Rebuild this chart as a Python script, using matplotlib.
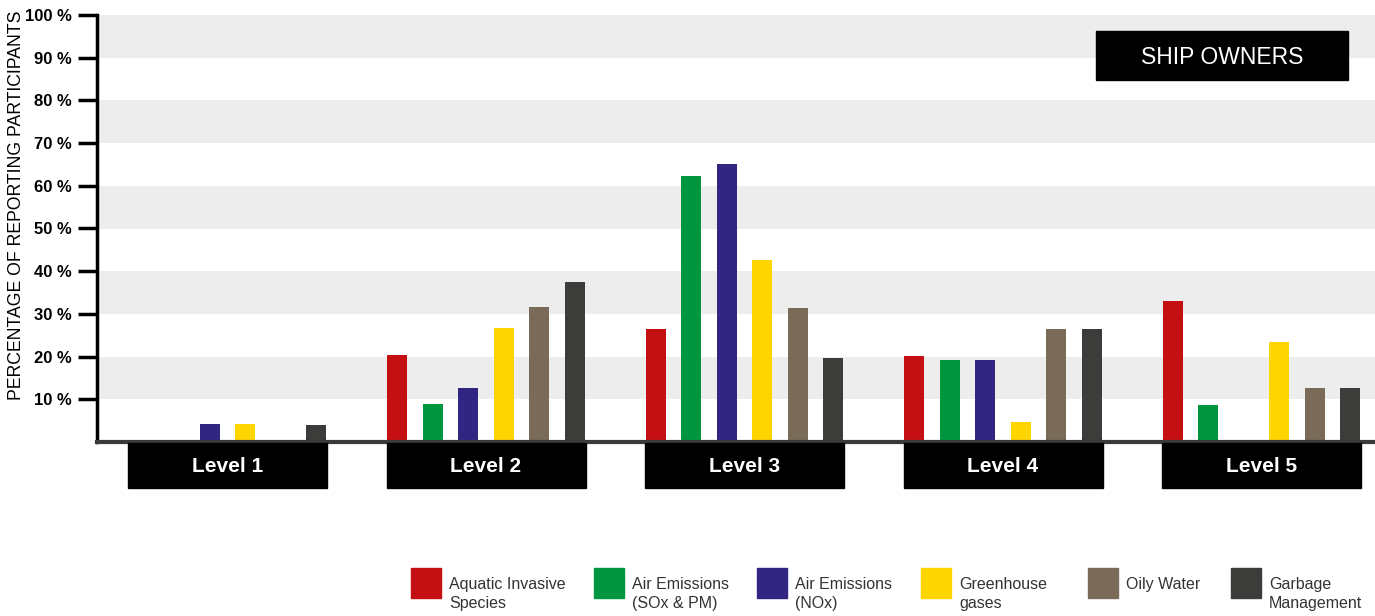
import matplotlib.pyplot as plt
import matplotlib.transforms as mtransforms
from matplotlib.patches import Rectangle
import numpy as np

plt.rcParams['font.family'] = ['Liberation Sans', 'DejaVu Sans']

# data
levels = ['Level 1', 'Level 2', 'Level 3', 'Level 4', 'Level 5']
series = ['Aquatic Invasive\nSpecies', 'Air Emissions\n(SOx & PM)', 'Air Emissions\n(NOx)',
          'Greenhouse\ngases', 'Oily Water', 'Garbage\nManagement']
aquatic = [0, 20.4, 26.5, 20.1, 33.0]
sox_pm = [0, 9.0, 62.3, 19.2, 8.7]
nox = [4.2, 12.6, 65.0, 19.2, 0]
ghg = [4.2, 26.7, 42.6, 4.7, 23.4]
oily = [0, 31.6, 31.4, 26.5, 12.6]
garbage = [3.9, 37.5, 19.7, 26.5, 12.6]
values = [aquatic, sox_pm, nox, ghg, oily, garbage]
colors = ['#C40F13', '#009640', '#312783', '#FFD500', '#7A6A58', '#3C3C3B']

fig = plt.figure(figsize=(13.75, 6.16), dpi=100)
W, H = 1375, 616
ax = fig.add_axes([97 / W, 174 / H, 1278 / W, 427 / H])

x = np.arange(len(levels))
step = 0.1373
width = 0.0774

# background bands
for lo in range(10, 100, 20):
    ax.axhspan(lo, lo + 10, color='#EDEDED', zorder=0, lw=0)

for i, (vals, c) in enumerate(zip(values, colors)):
    ax.bar(x + (i - 2.5) * step, vals, width=width, color=c, zorder=2)

ax.set_xlim(-0.505, 4.439)
ax.set_ylim(0, 100)
ax.set_yticks(range(10, 101, 10))
ax.set_yticklabels([f'{v} %' for v in range(10, 101, 10)], fontsize=12, fontweight='bold')
ax.tick_params(axis='y', length=14, width=2.5, direction='out', pad=4)
ax.set_xticks([])
for s in ['top', 'right']:
    ax.spines[s].set_visible(False)
ax.spines['left'].set_linewidth(2.5)
ax.spines['bottom'].set_linewidth(3)
ax.spines['bottom'].set_color('#3a3a3a')

# level label boxes
trans = mtransforms.blended_transform_factory(ax.transData, ax.transAxes)
box_w = 0.77
for xi, name in zip(x, levels):
    ax.add_patch(Rectangle((xi - box_w / 2, -0.108), box_w, 0.105, transform=trans,
                           color='black', clip_on=False, zorder=3))
    ax.text(xi, -0.057, name, transform=trans, color='white', fontsize=15,
            fontweight='bold', ha='center', va='center', zorder=4)

ax.set_ylabel('PERCENTAGE OF REPORTING PARTICIPANTS', fontsize=12.7)
ax.yaxis.set_label_coords(-72 / 1278, 0.555)

# ship owners box
fig.patches.append(Rectangle((1096 / W, 1 - 80 / H), 252 / W, 49 / H,
                             transform=fig.transFigure, color='black', zorder=5))
fig.text(1222 / W, 1 - 57 / H, 'SHIP OWNERS', color='white', fontsize=16.5,
         ha='center', va='center', zorder=6)

# legend
leg_x = [411, 594, 757, 921, 1088, 1231]
for lx, lab, c in zip(leg_x, series, colors):
    fig.patches.append(Rectangle((lx / W, 1 - 598 / H), 30 / W, 30 / H,
                                 transform=fig.transFigure, color=c))
    if '\n' in lab:
        fig.text((lx + 38) / W, 1 - 594 / H, lab, fontsize=11.5, color='#333333',
                 ha='left', va='center', linespacing=1.35)
    else:
        fig.text((lx + 38) / W, 1 - 584 / H, lab, fontsize=11.5, color='#333333',
                 ha='left', va='center')

fig.savefig('out.png', dpi=100)
